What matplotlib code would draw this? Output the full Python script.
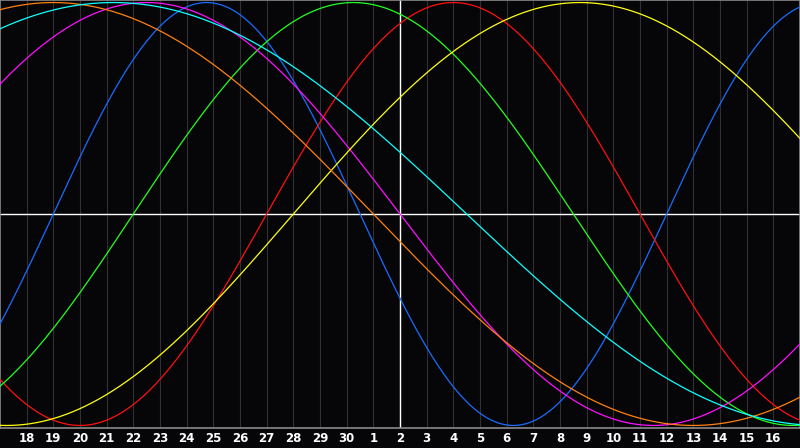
import numpy as np
import matplotlib
matplotlib.use("Agg")
import matplotlib.pyplot as plt

# day labels along the bottom (grid line 0 = day 17, today = day 2)
day_labels = [18, 19, 20, 21, 22, 23, 24, 25, 26, 27, 28, 29, 30,
              1, 2, 3, 4, 5, 6, 7, 8, 9, 10, 11, 12, 13, 14, 15, 16]
today_index = 15          # position of day 2
n_days = 30

# cycles: length in days and how far into the cycle the chart starts
cycle_len = [23, 28, 33, 38, 43, 48, 53]
cycle_start = [21, 18, 28, 4, 32, 10, 9]
cycle_color = ['#1a6cff', '#ff1010', '#22ff22', '#ff10ff', '#ffff10', '#ff8010', '#10ffff']

bg = '#060609'

fig = plt.figure(figsize=(8, 4.48), dpi=100, facecolor=bg)
ax = fig.add_axes([0, 20 / 448, 1, 428 / 448])
ax.set_facecolor(bg)

# day grid
for i in range(1, n_days):
    ax.axvline(i, color='#303033', lw=0.8, zorder=1)

t = np.linspace(0, n_days, 1200)
for length, start, col in zip(cycle_len, cycle_start, cycle_color):
    ax.plot(t, np.sin(2 * np.pi * (start + t) / length), color=col, lw=0.9, zorder=3)

ax.axhline(0, color='white', lw=1.0, zorder=2)
ax.axvline(today_index, color='white', lw=1.0, zorder=2)

ax.set_xlim(0, n_days)
ax.set_ylim(-1.012, 1.012)
ax.set_xticks([])
ax.set_yticks([])
for s in ax.spines.values():
    s.set_color('#8a8a8a')
    s.set_linewidth(1.2)

for i, lab in enumerate(day_labels, start=1):
    fig.text(i / n_days, 10 / 448, str(lab), color='white', fontsize=8.5,
             fontweight='bold', family='DejaVu Sans', ha='center', va='center')

fig.savefig('out.png', dpi=100, facecolor=bg)
